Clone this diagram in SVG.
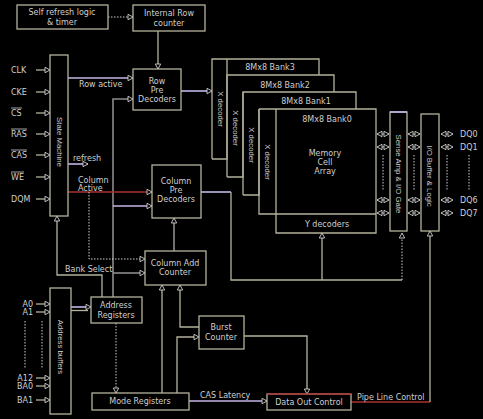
<svg xmlns="http://www.w3.org/2000/svg" width="483" height="419" viewBox="0 0 483 419">
<style>
.bg{fill:#000}
.box{fill:none;stroke:#b4b29c;stroke-width:1.3}
.t{font-family:"DejaVu Sans","Liberation Sans",sans-serif;font-size:8px;fill:#cfcfcf}
.v{font-family:"Liberation Sans",Arial,sans-serif;font-size:7.8px;fill:#cfcfcf;text-anchor:middle}
.c{text-anchor:middle}
.e{text-anchor:end}
.ln{fill:none;stroke:#b4b29c;stroke-width:1.3}
.lv{fill:none;stroke:#c4b6e6;stroke-width:1.6}
.rd{fill:none;stroke:#a83030;stroke-width:1.3}
.gr{fill:none;stroke:#8c8c8c;stroke-width:1.6}
.dt{fill:none;stroke:#cfcfcf;stroke-width:1;stroke-dasharray:1.5 1.5}
.ob{stroke:#cfcfcf;stroke-width:0.8}
</style>
<defs>
<marker id="a" markerWidth="7" markerHeight="7" refX="6" refY="3.5" orient="auto" markerUnits="userSpaceOnUse">
<path d="M1,0.8 L6,3.5 L1,6.2 Z" fill="#000" stroke="#cfcfcf" stroke-width="0.9"/>
</marker>
<marker id="as" markerWidth="7" markerHeight="7" refX="1" refY="3.5" orient="auto" markerUnits="userSpaceOnUse">
<path d="M6,0.8 L1,3.5 L6,6.2 Z" fill="#000" stroke="#cfcfcf" stroke-width="0.9"/>
</marker>
<g id="bi"><path d="M1,0 H13" fill="none" stroke="#cfcfcf" stroke-width="0.9" marker-start="url(#as)" marker-end="url(#a)"/></g>
</defs>
<rect class="bg" x="0" y="0" width="483" height="419"/>

<g id="connectors">
<path class="dt" d="M108,17 H133" marker-end="url(#a)"/>
<path class="ln" d="M158,31 V69" marker-end="url(#a)"/>
<path class="lv" d="M68,78 H133" marker-end="url(#a)"/>
<path class="gr" d="M113,297 V99 H133" marker-end="url(#a)"/>
<path class="lv" d="M113,206 H152" marker-end="url(#a)"/>
<path class="gr" d="M113,273 H145" marker-end="url(#a)"/>
<path class="rd" d="M68,192 H152" marker-end="url(#a)"/>
<path class="dt" d="M89,192 V259 H145" marker-end="url(#a)"/>
<path class="lv" d="M68,164 H88" marker-end="url(#a)"/>
<path class="ln" d="M102,297 V275 H57 V216" marker-end="url(#a)"/>
<path class="lv" d="M71,307 H91" marker-end="url(#a)"/>
<path class="ln" d="M71,310.5 H88"/>
<path class="dt" d="M116,323 V393" marker-end="url(#a)"/>
<path class="ln" d="M162,393 V285" marker-end="url(#a)"/>
<path class="ln" d="M199,327 H180 V285" marker-end="url(#a)"/>
<path class="ln" d="M177,393 V337 H199" marker-end="url(#a)"/>
<path class="ln" d="M244,336 H307 V394" marker-end="url(#a)"/>
<path class="lv" d="M189,401 H267" marker-end="url(#a)"/>
<path class="rd" d="M351,402 H430"/>
<path class="ln" d="M430,402 V231" marker-end="url(#a)"/>
<path class="lv" d="M181,91 H212" marker-end="url(#a)"/>
<path class="gr" d="M174,251 V218" marker-end="url(#a)"/>
<path class="lv" d="M201,192 H231"/>
<path class="ln" d="M231,192 V280 H402"/>
<path class="dt" d="M402,280 V233" marker-end="url(#a)"/>
<path class="ln" d="M322,280 V233" marker-end="url(#a)"/>
<path class="ln" d="M36,70 H50" marker-end="url(#a)"/>
<path class="ln" d="M36,92 H50" marker-end="url(#a)"/>
<path class="ln" d="M36,113 H50" marker-end="url(#a)"/>
<path class="ln" d="M36,134 H50" marker-end="url(#a)"/>
<path class="ln" d="M36,155 H50" marker-end="url(#a)"/>
<path class="ln" d="M36,177 H50" marker-end="url(#a)"/>
<path class="ln" d="M36,199 H50" marker-end="url(#a)"/>
<path class="ln" d="M36,304 H50" marker-end="url(#a)"/>
<path class="ln" d="M36,312 H50" marker-end="url(#a)"/>
<path class="ln" d="M36,378 H50" marker-end="url(#a)"/>
<path class="ln" d="M36,386 H50" marker-end="url(#a)"/>
<path class="ln" d="M36,400 H50" marker-end="url(#a)"/>
<path class="dt" d="M25,321 V369 M42,321 V369"/>
<use href="#bi" x="376" y="134"/><use href="#bi" x="376" y="147"/><use href="#bi" x="376" y="200"/><use href="#bi" x="376" y="213"/>
<use href="#bi" x="407" y="134"/><use href="#bi" x="407" y="147"/><use href="#bi" x="407" y="200"/><use href="#bi" x="407" y="213"/>
<use href="#bi" x="440" y="134"/><use href="#bi" x="440" y="147"/><use href="#bi" x="440" y="200"/><use href="#bi" x="440" y="213"/>
<path class="dt" d="M383,155 V191 M414,155 V191 M447,155 V191 M469,155 V191"/>
</g>

<g id="selfref"><rect class="box" x="17" y="5" width="91" height="24"/>
<text class="t c" x="62" y="15">Self refresh logic</text><text class="t c" x="62" y="25">&amp; timer</text></g>
<g id="introw"><rect class="box" x="133" y="5" width="72" height="26"/>
<text class="t c" x="169" y="16">Internal Row</text><text class="t c" x="169" y="26">counter</text></g>
<g id="rowpre"><rect class="box" x="133" y="69" width="48" height="41"/>
<text class="t c" x="157" y="84">Row</text><text class="t c" x="157" y="93">Pre</text><text class="t c" x="157" y="102">Decoders</text></g>
<g id="ctrl"><rect class="box" x="50" y="55" width="18" height="161"/>
<text class="v" transform="translate(56.5,142) rotate(90)">State Machine</text></g>
<g id="colpre"><rect class="box" x="152" y="165" width="49" height="53"/>
<text class="t c" x="176" y="184">Column</text><text class="t c" x="176" y="193">Pre</text><text class="t c" x="176" y="202">Decoders</text></g>
<g id="coladd"><rect class="box" x="145" y="251" width="61" height="34"/>
<text class="t c" x="175" y="266">Column Add</text><text class="t c" x="175" y="275">Counter</text></g>
<g id="addrbuf"><rect class="box" x="50" y="288" width="21" height="126"/>
<text class="v" transform="translate(57.5,347) rotate(90)">Address buffers</text></g>
<g id="addrreg"><rect class="box" x="91" y="297" width="51" height="26"/>
<text class="t c" x="116" y="308">Address</text><text class="t c" x="116" y="318">Registers</text></g>
<g id="modereg"><rect class="box" x="92" y="393" width="97" height="17"/>
<text class="t c" x="140" y="404">Mode Registers</text></g>
<g id="burst"><rect class="box" x="199" y="316" width="45" height="33"/>
<text class="t c" x="221" y="330">Burst</text><text class="t c" x="221" y="340">Counter</text></g>
<g id="dataout"><rect class="box" x="267" y="394" width="84" height="16"/>
<path class="rd" d="M267,394 H351"/>
<text class="t c" x="309" y="405">Data Out Control</text></g>

<g id="bank3">
<path class="box" d="M212,159 V59 H319 V75 M212,159 H227 V59"/>
<text class="t c" x="270" y="70">8Mx8 Bank3</text>
<text class="v" transform="translate(217.5,109) rotate(90)">X decoder</text></g>
<g id="bank2">
<path class="box" d="M227,177 V75 H334 V92 M227,177 H243 V92"/>
<text class="t c" x="285" y="88">8Mx8 Bank2</text>
<text class="v" transform="translate(232.5,128) rotate(90)">X decoder</text></g>
<g id="bank1">
<path class="box" d="M243,195 V92 H356 V109 M243,195 H259 V109"/>
<text class="t c" x="306" y="104">8Mx8 Bank1</text>
<text class="v" transform="translate(248.5,145) rotate(90)">X decoder</text></g>
<g id="bank0">
<path class="box" d="M259,109 H376 V233 H276 V109 M259,109 V214 H376"/>
<text class="t c" x="327" y="122">8Mx8 Bank0</text>
<text class="t c" x="325" y="156">Memory</text><text class="t c" x="325" y="165">Cell</text><text class="t c" x="325" y="174">Array</text>
<text class="t c" x="327" y="227">Y decoders</text>
<text class="v" transform="translate(264.5,162) rotate(90)">X decoder</text></g>
<g id="senseamp"><rect class="box" x="390" y="112" width="17" height="119"/>
<path class="lv" d="M390,112 H407"/>
<text class="v" transform="translate(395.5,174) rotate(90)">Sense Amp &amp; I/O Gate</text></g>
<g id="iobuf"><rect class="box" x="421" y="114" width="18" height="117"/>
<text class="v" transform="translate(427,176) rotate(90)">I/O Buffer &amp; Logic</text></g>

<g id="labels">
<text class="t" x="11" y="73">CLK</text>
<text class="t" x="11" y="95">CKE</text>
<text class="t" x="11" y="116">CS</text><path class="ob" d="M11,108 H22"/>
<text class="t" x="11" y="137">RAS</text><path class="ob" d="M11,129 H27"/>
<text class="t" x="11" y="158">CAS</text><path class="ob" d="M11,150 H27"/>
<text class="t" x="11" y="180">WE</text><path class="ob" d="M11,172 H24"/>
<text class="t" x="11" y="202">DQM</text>
<text class="t e" x="33" y="307">A0</text>
<text class="t e" x="33" y="315">A1</text>
<text class="t e" x="33" y="381">A12</text>
<text class="t e" x="33" y="389">BA0</text>
<text class="t e" x="33" y="403">BA1</text>
<text class="t" x="460" y="137">DQ0</text>
<text class="t" x="460" y="150">DQ1</text>
<text class="t" x="460" y="203">DQ6</text>
<text class="t" x="460" y="216">DQ7</text>
<text class="t" x="79" y="87">Row active</text>
<text class="t" x="73" y="161">refresh</text>
<text class="t" x="78" y="183">Column</text>
<text class="t" x="78" y="190.5">Active</text>
<text class="t" x="65" y="272">Bank Select</text>
<text class="t" x="200" y="398">CAS Latency</text>
<text class="t" x="357" y="400">Pipe Line Control</text>
</g>
</svg>
